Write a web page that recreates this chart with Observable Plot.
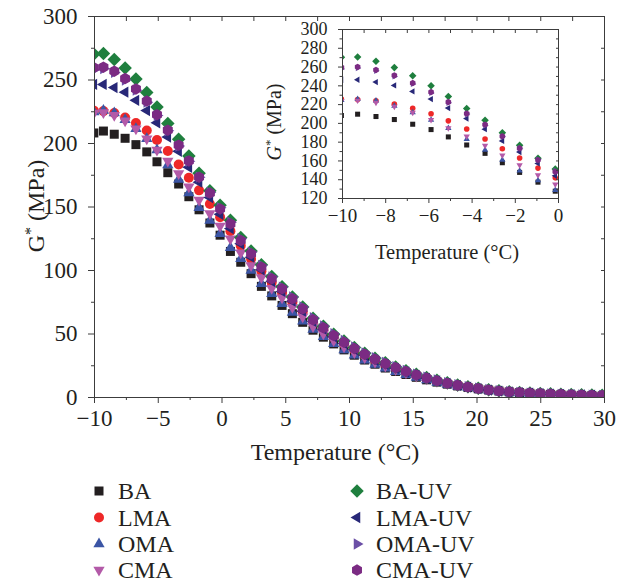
<!DOCTYPE html>
<html><head><meta charset="utf-8">
<script src="https://cdn.jsdelivr.net/npm/d3@7"></script>
<script src="https://cdn.jsdelivr.net/npm/@observablehq/plot@0.6"></script>
<style>
body{margin:0;background:#fff;}
#wrap{position:relative;width:624px;height:584px;font-family:"Liberation Serif",serif;color:#231f20;}
#inset{position:absolute;left:280px;top:15px;}
#legend{position:absolute;left:0;top:470px;}
svg{overflow:visible;}
</style></head><body><div id="wrap"><div id="main"></div><div id="inset"></div><div id="legend"></div></div>
<script>
// ---------- data ----------
const temperature = [-10.05, -9.3, -8.45, -7.6, -6.75, -5.9, -5.1, -4.25, -3.4, -2.6, -1.8, -0.95, -0.15,
  0.66, 1.47, 2.28, 3.09, 3.9, 4.71, 5.52, 6.33, 7.14, 7.95, 8.76, 9.57, 10.38, 11.19, 12.0, 12.81, 13.62, 14.43,
  15.24, 16.05, 16.86, 17.67, 18.48, 19.29, 20.1, 20.91, 21.72, 22.53, 23.34, 24.15, 24.96, 25.77, 26.58, 27.39, 28.2, 29.01, 29.82];

const BA = [208.3, 209.8, 207.3, 204.1, 199.1, 193.4, 185.6, 177, 168.1, 158.1, 147.8, 137.4, 127.8,
  115, 106.5, 97.5, 87.5, 80, 72.5, 66, 59.2, 53, 47.5, 42.2, 37.5, 33.3, 29.5, 26.2, 23.2, 20.5, 18.1, 15.9, 13.9,
  12.1, 10.5, 9.1, 7.9, 6.8, 5.9, 5.1, 4.4, 3.8, 3.3, 2.9, 2.5, 2.2, 1.9, 1.7, 1.5, 1.3];
const LMA = [226, 225.5, 224, 220.5, 216.2, 210.2, 202.7, 194.1, 183.4, 173, 163.1, 152.4, 142,
  131, 119.5, 109, 99.5, 90.5, 82.5, 75, 67.5, 59.5, 53.3, 47.5, 42.3, 37.5, 33.2, 29.4, 26, 23, 20.2, 17.6, 15.3,
  13.2, 11.4, 9.8, 8.4, 7.2, 6.2, 5.3, 4.6, 4.0, 3.5, 3.1, 2.8, 2.5, 2.2, 2.0, 1.8, 1.6];
const OMA = [224.8, 225.9, 224.1, 218.7, 211.6, 203.7, 194.9, 183.1, 171.7, 161, 149.5, 139.3, 128.9,
  117.9, 109.2, 100, 89.5, 81.7, 73.8, 67, 60, 53.5, 47.8, 42.3, 37.5, 33.2, 29.4, 26, 23, 20.3, 17.9, 15.7, 13.7,
  11.9, 10.3, 8.9, 7.7, 6.6, 5.7, 4.9, 4.2, 3.6, 3.1, 2.7, 2.3, 2.0, 1.7, 1.5, 1.3, 1.1];
const CMA = [224.1, 224.4, 222.2, 218, 211.6, 203.7, 194.9, 186.3, 176.3, 166, 155.6, 144.9, 135,
  125, 114, 104, 94.5, 86, 78.5, 71, 63.5, 56, 50.2, 44.8, 40, 35.5, 31.5, 28, 24.8, 22, 19.4, 17, 14.8,
  12.8, 11, 9.5, 8.2, 7.0, 6.0, 5.2, 4.5, 3.9, 3.4, 3.0, 2.6, 2.3, 2.1, 1.9, 1.7, 1.5];
const BA_UV = [270.4, 270.8, 266.1, 259.4, 250.8, 240.1, 228.7, 215.8, 203.4, 190.1, 176.6, 162.8, 151.3,
  139.5, 126, 115.3, 104.6, 95.3, 87.2, 79.2, 71.2, 62.5, 56.1, 49.9, 44.5, 39.4, 34.8, 31, 27.3, 24.1, 21.1, 18.3, 15.8,
  13.5, 11.6, 9.9, 8.5, 7.3, 6.2, 5.3, 4.6, 4.0, 3.6, 3.2, 2.9, 2.6, 2.3, 2.1, 1.9, 1.7];
const LMA_UV = [246.5, 246.5, 244, 240.4, 234, 225.9, 216.3, 205.1, 193.8, 181.3, 169.5, 157.4, 144.2,
  133, 121, 110.5, 100.5, 91.5, 83.5, 75.8, 68, 60, 53.8, 47.8, 42.6, 37.7, 33.3, 29.5, 26, 23, 20.1, 17.5, 15.1,
  13, 11.1, 9.5, 8.1, 7.0, 5.9, 5.1, 4.4, 3.9, 3.4, 3.0, 2.7, 2.4, 2.2, 2.0, 1.8, 1.6];
const OMA_UV = [258, 259, 256, 250, 242, 232.5, 222, 210, 198, 186, 173.5, 161.5, 149.5,
  138, 125, 114.5, 104, 95, 87, 79.2, 71.3, 62.8, 56.3, 50.2, 44.9, 39.8, 35.2, 31.3, 27.6, 24.4, 21.3, 18.5, 16,
  13.8, 11.8, 10.1, 8.6, 7.4, 6.3, 5.4, 4.6, 4.0, 3.5, 3.1, 2.8, 2.5, 2.2, 2.0, 1.8, 1.6];
const CMA_UV = [259.7, 260.1, 256.9, 251.1, 243, 233.4, 222.7, 210.5, 198.7, 186.3, 173.5, 161, 148.5,
  136.8, 123.6, 113.1, 102.6, 93.5, 85.6, 77.7, 69.8, 61.2, 54.9, 48.8, 43.5, 38.5, 34, 30.2, 26.6, 23.5, 20.5, 17.8, 15.3,
  13.1, 11.2, 9.6, 8.2, 7.0, 6.0, 5.1, 4.5, 4.0, 3.5, 3.1, 2.8, 2.5, 2.2, 2.0, 1.8, 1.6];

const seriesNames = ["BA", "LMA", "OMA", "CMA", "BA-UV", "LMA-UV", "OMA-UV", "CMA-UV"];
const seriesValues = [BA, LMA, OMA, CMA, BA_UV, LMA_UV, OMA_UV, CMA_UV];
const seriesColors = ["#231f20", "#ee2828", "#3b55a5", "#b35aa8", "#1f7f3e", "#282878", "#6b4fa6", "#7b2b83"];

const mainXTicks = [-10, -5, 0, 5, 10, 15, 20, 25, 30];
const mainXMinor = [-7.5, -2.5, 2.5, 7.5, 12.5, 17.5, 22.5, 27.5];
const mainYTicks = [0, 50, 100, 150, 200, 250, 300];
const mainYMinor = [25, 75, 125, 175, 225, 275];
const insetXTicks = [-10, -8, -6, -4, -2, 0];
const insetXMinor = [-9, -7, -5, -3, -1];
const insetYTicks = [120, 140, 160, 180, 200, 220, 240, 260, 280, 300];
const insetYMinor = [130, 150, 170, 190, 210, 230, 250, 270, 290];

// ---------- symbols ----------
function poly(pts) {
  return {draw(ctx, size) {
    const r = Math.sqrt(size / Math.PI);
    pts.forEach(([a, b], i) => i ? ctx.lineTo(a * r, b * r) : ctx.moveTo(a * r, b * r));
    ctx.closePath();
  }};
}
function tri(angle) {
  const R = 1.3;
  return poly([0, 120, 240].map(a => { const t = (a + angle) * Math.PI / 180; return [R * Math.cos(t), R * Math.sin(t)]; }));
}
const symSquare = poly([[-0.9, -0.9], [0.9, -0.9], [0.9, 0.9], [-0.9, 0.9]]);
const symCircle = {draw(ctx, size) { const r = Math.sqrt(size / Math.PI); ctx.moveTo(r, 0); ctx.arc(0, 0, r, 0, 2 * Math.PI); }};
const symDiamond = poly([[0, -1.35], [1.35, 0], [0, 1.35], [-1.35, 0]]);
const symHex = poly(d3.range(6).map(k => { const t = (-90 + 60 * k) * Math.PI / 180; return [1.15 * Math.cos(t), 1.15 * Math.sin(t)]; }));
const seriesSymbols = [symSquare, symCircle, tri(-90), tri(90), symDiamond, tri(180), tri(0), symHex];

const rows = [];
seriesNames.forEach((name, i) => temperature.forEach((t, j) => rows.push({series: name, t, g: seriesValues[i][j]})));

const fmt = d => d < 0 ? "\u2212" + Math.abs(d) : String(d);
const ink = "#231f20";
const axisCol = "#3c3c3c";
const serif = "Liberation Serif, serif";

function dotMarks(r) {
  return seriesNames.map((name, i) => Plot.dot(rows.filter(d => d.series === name), {
    x: "t", y: "g", r, fill: seriesColors[i], symbol: seriesSymbols[i], clip: true
  }));
}

// ---------- main chart ----------
const main = Plot.plot({
  width: 624, height: 470,
  marginLeft: 94, marginRight: 20, marginTop: 16, marginBottom: 73,
  style: {fontFamily: serif, color: ink, background: "transparent"},
  x: {domain: [-10, 30]},
  y: {domain: [0, 300]},
  marks: [
    ...dotMarks(5),
    Plot.frame({stroke: axisCol}),
    Plot.axisX({ticks: mainXTicks, tickSize: 6, tickPadding: 6, tickFormat: fmt, fontSize: 23, label: null, stroke: axisCol, fill: ink}),
    Plot.axisX({ticks: mainXMinor, tickSize: 3, label: null, stroke: axisCol, fill: "none"}),
    Plot.axisX({anchor: "top", ticks: [...mainXTicks, ...mainXMinor], tickSize: -4, label: null, stroke: axisCol, fill: "none"}),
    Plot.axisY({ticks: mainYTicks, tickSize: 6, tickPadding: 11, fontSize: 23, label: null, stroke: axisCol, fill: ink}),
    Plot.axisY({ticks: mainYMinor, tickSize: 3, label: null, stroke: axisCol, fill: "none"}),
    Plot.axisY({anchor: "right", ticks: [...mainYTicks, ...mainYMinor], tickSize: -4, label: null, stroke: axisCol, fill: "none"})
  ]
});
document.getElementById("main").appendChild(main);
{
  const s = d3.select(main);
  s.append("text").attr("x", 335).attr("y", 460).attr("text-anchor", "middle")
    .attr("font-size", 24).attr("fill", ink).attr("font-family", serif)
    .text("Temperature (\u00b0C)");
  const yl = s.append("text").attr("transform", "translate(44,206) rotate(-90)").attr("text-anchor", "middle")
    .attr("font-size", 24).attr("fill", ink).attr("font-family", serif);
  yl.append("tspan").text("G");
  yl.append("tspan").attr("dy", -8).attr("font-size", 16).text("*");
  yl.append("tspan").attr("dy", 8).text(" (MPa)");
}

// ---------- inset ----------
const inset = Plot.plot({
  width: 300, height: 260,
  marginLeft: 62, marginRight: 22, marginTop: 14, marginBottom: 77,
  style: {fontFamily: serif, color: ink, background: "transparent"},
  x: {domain: [-10, 0]},
  y: {domain: [120, 300]},
  marks: [
    ...dotMarks(2.8),
    Plot.frame({stroke: axisCol}),
    Plot.axisX({ticks: insetXTicks, tickSize: 5, tickPadding: 5, tickFormat: fmt, fontSize: 19, label: null, stroke: axisCol, fill: ink}),
    Plot.axisX({ticks: insetXMinor, tickSize: 3, label: null, stroke: axisCol, fill: "none"}),
    Plot.axisX({anchor: "top", ticks: [...insetXTicks, ...insetXMinor], tickSize: -3, label: null, stroke: axisCol, fill: "none"}),
    Plot.axisY({ticks: insetYTicks, tickSize: 4, tickPadding: 11, fontSize: 18, label: null, stroke: axisCol, fill: ink}),
    Plot.axisY({ticks: insetYMinor, tickSize: 2.5, label: null, stroke: axisCol, fill: "none"}),
    Plot.axisY({anchor: "right", ticks: [...insetYTicks, ...insetYMinor], tickSize: -3, label: null, stroke: axisCol, fill: "none"})
  ]
});
document.getElementById("inset").appendChild(inset);
{
  const s = d3.select(inset);
  s.append("text").attr("x", 167).attr("y", 244).attr("text-anchor", "middle")
    .attr("font-size", 20.5).attr("fill", ink).attr("font-family", serif)
    .text("Temperature (\u00b0C)");
  const yl = s.append("text").attr("transform", "translate(1,107) rotate(-90)").attr("text-anchor", "middle")
    .attr("font-size", 20).attr("fill", ink).attr("font-family", serif);
  yl.append("tspan").attr("font-style", "italic").text("G");
  yl.append("tspan").attr("dy", -7).attr("font-size", 13).text("*");
  yl.append("tspan").attr("dy", 7).text(" (MPa)");
}

// ---------- legend ----------
{
  const svg = d3.select("#legend").append("svg").attr("width", 624).attr("height", 114);
  const colX = [99, 357], rowY = [21, 47.5, 74, 100];
  seriesNames.forEach((name, i) => {
    const col = Math.floor(i / 4), row = i % 4;
    const g = svg.append("g").attr("transform", `translate(${colX[col]},${rowY[row]})`);
    g.append("path").attr("d", d3.symbol(seriesSymbols[i], Math.PI * 25)()).attr("fill", seriesColors[i]);
    g.append("text").attr("x", 19).attr("dy", "0.35em").attr("font-size", 24).attr("fill", ink)
      .attr("font-family", serif).text(name);
  });
}
</script></body></html>
